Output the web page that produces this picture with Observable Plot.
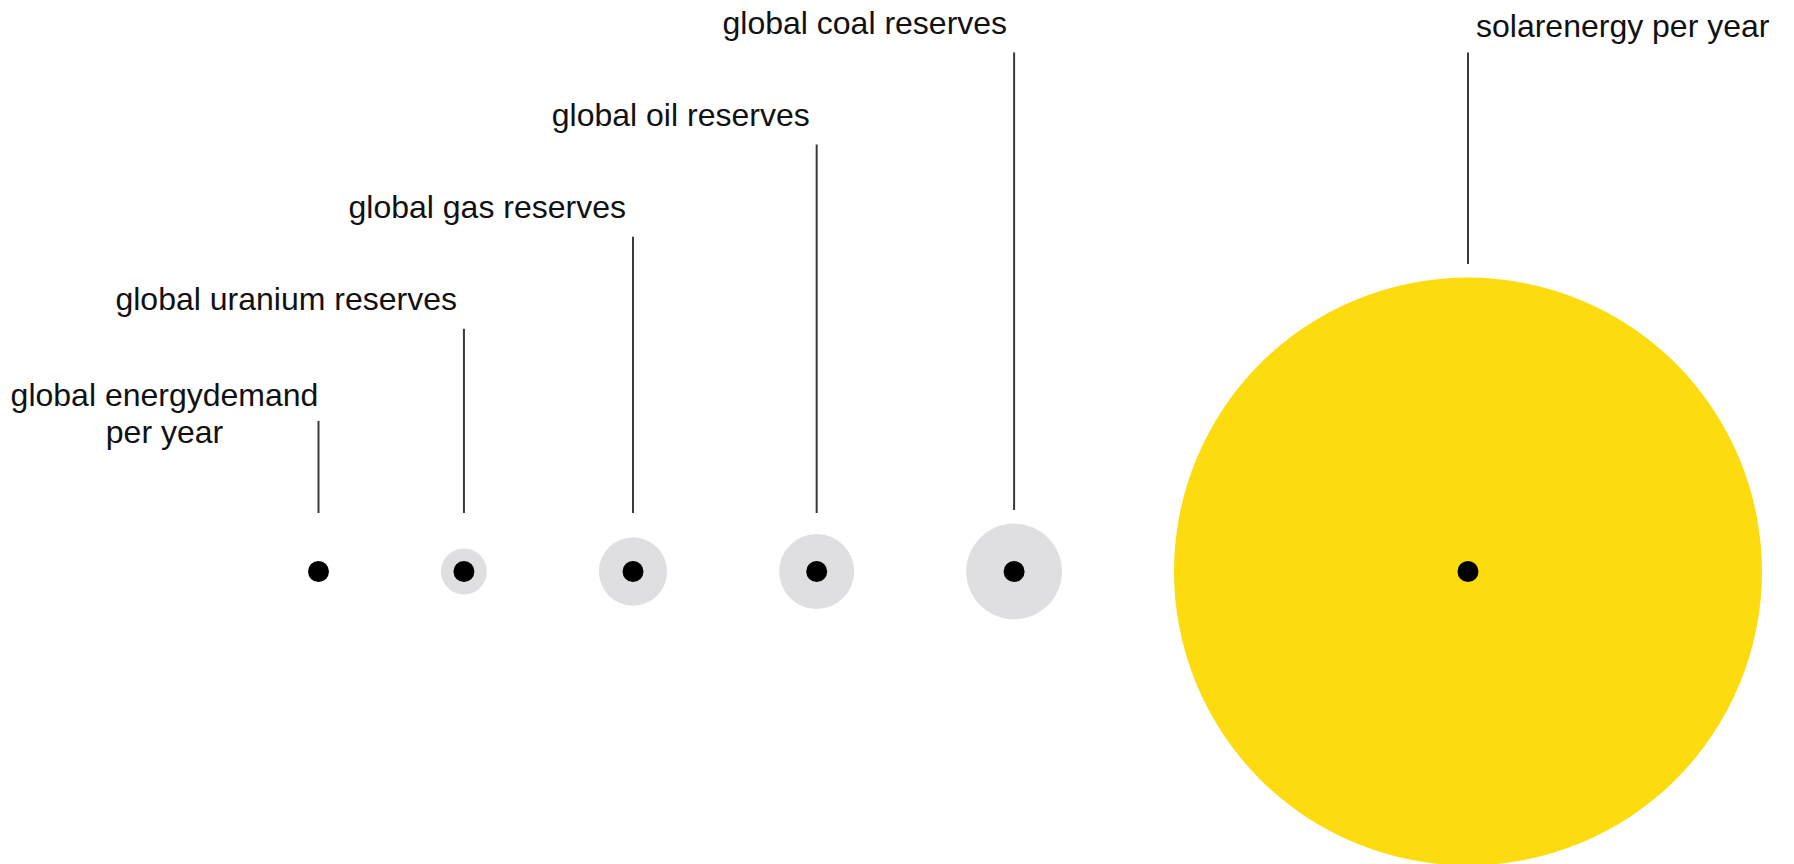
<!DOCTYPE html>
<html>
<head>
<meta charset="utf-8">
<script src="https://cdn.jsdelivr.net/npm/d3@7"></script>
<script src="https://cdn.jsdelivr.net/npm/@observablehq/plot@0.6"></script>
<style>
  html, body { margin: 0; padding: 0; background: #ffffff; }
  svg { display: block; }
</style>
</head>
<body>
<div id="chart"></div>
<script>
// ---- data (relative energy amounts, area-proportional) ----
const names = [
  "global energydemand\nper year",
  "global uranium reserves",
  "global gas reserves",
  "global oil reserves",
  "global coal reserves",
  "solarenergy per year"
];
const values = [16, 140, 310, 375, 610, 23000];
const kinds = ["demand", "reserve", "reserve", "reserve", "reserve", "solar"];
const labelTiers = [0, 1, 2, 3, 4, 4];

// ---- layout ----
const W = 1794, H = 864;
const centerY = 571;          // baseline of the row of circles
const maxR = 294;             // radius of the largest circle
const coreR = 10.5;           // black centre dot
const gap = 112;              // gap between neighbouring circles
const startX = 318;
const unit = 92.1;            // px per label tier

const rOptions = {type: "sqrt", domain: [0, d3.max(values)], range: [0, maxR]};
const rScale = (Plot.scale ? Plot.scale({r: rOptions}) : null);
const rOf = v => rScale ? rScale.apply(v) : d3.scaleSqrt().domain(rOptions.domain).range(rOptions.range)(v);

const data = names.map((name, i) => ({name, value: values[i], kind: kinds[i], tier: labelTiers[i]}));
let cx = startX;
data.forEach((d, i) => {
  d.rpx = Math.max(rOf(d.value), coreR);
  if (i > 0) cx += data[i - 1].rpx + gap + d.rpx;
  d.x = cx;
  d.y = 0;
  d.yTop = d.tier + 1.63;
  d.yBottom = Math.max(58, d.rpx + 13) / unit;
});

const font = "'Liberation Sans', Arial, Helvetica, sans-serif";

const plot = Plot.plot({
  width: W,
  height: H,
  marginTop: 0,
  marginBottom: H - centerY,
  marginLeft: 0,
  marginRight: 0,
  style: {fontFamily: font, background: "#ffffff"},
  x: {domain: [0, W], axis: null},
  y: {domain: [0, centerY / unit], range: [centerY, 0], axis: null},
  r: rOptions,
  color: {domain: ["demand", "reserve", "solar"], range: ["#dfdfe2", "#dfdfe2", "#fddc0f"]},
  marks: [
    Plot.ruleX(data, {x: "x", y1: "yBottom", y2: "yTop", stroke: "#3a3a3a", strokeWidth: 2}),
    Plot.dot(data, {x: "x", y: "y", r: "value", fill: "kind"}),
    Plot.dot(data, {x: "x", y: "y", r: coreR, fill: "#000000"}),
    Plot.text(data.filter(d => d.kind === "reserve"), {
      x: "x", y: "yTop", text: "name", textAnchor: "end", lineAnchor: "bottom",
      dx: -7, dy: -19, fontSize: 32, fill: "#111111", fontFamily: font
    }),
    Plot.text(data.filter(d => d.kind === "solar"), {
      x: "x", y: "yTop", text: "name", textAnchor: "start", lineAnchor: "bottom",
      dx: 8, dy: -16, fontSize: 32, fill: "#111111", fontFamily: font
    }),
    Plot.text(data.filter(d => d.kind === "demand"), {
      x: "x", y: "yTop", text: "name", textAnchor: "middle", lineAnchor: "bottom",
      lineHeight: 37 / 32, dx: -154, dy: 22, fontSize: 32, fill: "#111111", fontFamily: font
    })
  ]
});

document.getElementById("chart").appendChild(plot);
</script>
</body>
</html>
